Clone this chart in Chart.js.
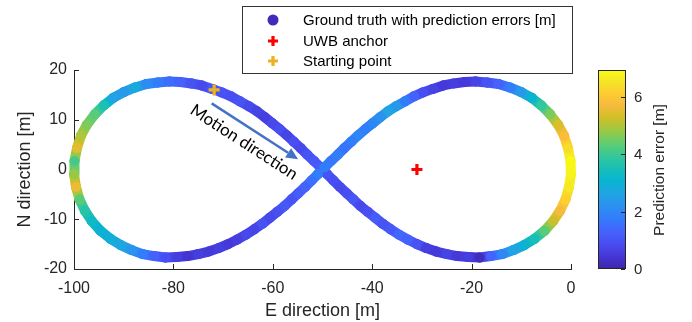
<!DOCTYPE html>
<html><head><meta charset="utf-8">
<script src="https://cdn.jsdelivr.net/npm/chart.js@4/dist/chart.umd.min.js"></script>
<style>html,body{margin:0;padding:0;background:#fff}#wrap{width:692px;height:322px;position:relative}</style>
</head><body><div id="wrap"><canvas id="c" width="692" height="322"></canvas></div>
<script>
// ---- data (trajectory in travel order, starting at the start point) ----
const eastM = [
-72.2,-70.3,-68.4,-66.6,-64.8,-63.2,-61.6,-60.1,-58.6,-57.2,-55.8,-54.4,-53.1,-51.7,-50.4,
-49.1,-47.8,-46.5,-45.1,-43.8,-42.4,-40.9,-39.4,-37.9,-36.3,-34.6,-32.8,-31.0,-29.1,-27.1,-25.0,-22.9,-20.7,-18.4,-16.1,-13.8,-11.6,-9.4,-7.3,-5.3,-3.6,-2.2,-1.1,-0.4,0.0,
-0.1,-0.6,-1.4,-2.6,-4.2,-6.0,-7.9,-10.1,-12.3,-14.6,-16.9,-19.2,-21.4,-23.6,-25.7,-27.8,-29.8,-31.6,-33.4,-35.2,-36.8,-38.4,-39.9,-41.4,-42.8,-44.2,-45.6,-46.9,-48.3,-49.6,
-50.9,-52.2,-53.5,-54.9,-56.2,-57.6,-59.1,-60.6,-62.1,-63.7,-65.4,-67.2,-69.0,-70.9,-72.9,-75.0,-77.1,-79.3,-81.6,-83.9,-86.2,-88.4,-90.6,-92.7,-94.7,-96.4,-97.8,-98.9,-99.6,-100.0,
-99.9,-99.4,-98.6,-97.4,-95.8,-94.0,-92.1,-89.9,-87.7,-85.4,-83.1,-80.8,-78.6,-76.4,-74.3
];
const northM = [
16.2,15.5,14.7,13.7,12.7,11.7,10.5,9.3,8.1,6.9,5.6,4.3,3.0,1.7,0.4,
-0.9,-2.2,-3.5,-4.8,-6.0,-7.3,-8.5,-9.7,-10.9,-12.0,-13.1,-14.1,-15.0,-15.8,-16.5,-17.0,-17.4,-17.6,-17.7,-17.4,-17.0,-16.2,-15.2,-13.9,-12.3,-10.4,-8.3,-6.0,-3.5,-0.9,
1.7,4.3,6.8,9.0,11.1,12.9,14.4,15.6,16.5,17.2,17.5,17.7,17.6,17.3,16.9,16.2,15.5,14.7,13.7,12.7,11.7,10.5,9.3,8.1,6.9,5.6,4.3,3.0,1.7,0.4,
-0.9,-2.2,-3.5,-4.8,-6.0,-7.3,-8.5,-9.7,-10.9,-12.0,-13.1,-14.1,-15.0,-15.8,-16.5,-17.0,-17.4,-17.6,-17.7,-17.4,-17.0,-16.2,-15.2,-13.9,-12.3,-10.4,-8.3,-6.0,-3.5,-0.9,
1.7,4.3,6.8,9.0,11.1,12.9,14.4,15.6,16.5,17.2,17.5,17.7,17.6,17.3,16.9
];
const errM = [
1.1,1.0,0.9,1.0,0.8,0.7,0.6,0.8,0.9,0.7,0.9,0.8,1.0,1.1,1.2,
1.0,0.9,0.8,0.9,1.1,0.8,0.9,1.2,1.0,1.1,1.4,1.3,1.0,0.6,0.5,0.7,0.5,0.6,0.2,1.3,2.0,2.6,3.0,3.5,4.3,5.2,5.7,6.2,6.6,6.8,
6.9,6.4,5.8,5.4,4.6,3.9,3.1,2.4,1.8,1.3,1.0,0.7,0.5,0.6,0.5,0.7,0.9,1.3,1.8,2.4,2.6,2.2,2.0,1.8,2.0,1.8,1.6,1.8,1.7,1.8,
1.8,1.6,1.3,1.2,1.0,1.1,0.9,0.8,1.0,0.7,0.8,0.6,0.5,0.6,0.5,0.6,0.4,0.6,0.9,1.3,1.8,2.3,2.7,2.9,3.0,3.3,3.7,4.3,5.6,4.8,
4.1,5.5,5.0,4.6,4.3,3.6,2.6,2.4,2.8,2.1,1.8,1.5,1.3,1.0,0.8
];
const anchorE = [-31.0], anchorN = [0.0];
const startE = [-71.8], startN = [16.0];
const arrowE = [-72.3, -54.9], arrowN = [13.3, 2.05];
const arrowTextE = -65.8, arrowTextN = 5.5;
const xTicks = [-100,-80,-60,-40,-20,0];
const yTicks = [-20,-10,0,10,20];
const cbTicks = [0,2,4,6];
const cbMax = 6.95;
const legendLabels = ['Ground truth with prediction errors [m]','UWB anchor','Starting point'];

// ---- colormap (parula) ----
const parulaStops = [
[0.2422,0.1504,0.6603],[0.2706,0.2147,0.8364],[0.2813,0.3006,0.9414],[0.2699,0.3892,0.9906],
[0.1963,0.4847,0.9892],[0.1687,0.5703,0.9359],[0.1248,0.6459,0.8883],[0.0297,0.7082,0.8163],
[0.0964,0.7500,0.7120],[0.2161,0.7843,0.5923],[0.3909,0.8029,0.4354],[0.6174,0.7876,0.2612],
[0.8203,0.7498,0.1535],[0.9728,0.7298,0.2394],[0.9892,0.8136,0.1885],[0.9597,0.9135,0.1423],
[0.9769,0.9839,0.0805]];
const stopPos = [0,4,8,12,16,20,24,28,32,36,40,44,48,52,56,60,63].map(v=>v/63);
function parulaFrac(t){
  t = Math.min(1, Math.max(0, t));
  let i = 0;
  while (i < stopPos.length-2 && t > stopPos[i+1]) i++;
  const f = (t - stopPos[i])/(stopPos[i+1]-stopPos[i]);
  const a = parulaStops[i], b = parulaStops[i+1];
  const c = k => Math.round(255*(a[k]+(b[k]-a[k])*f));
  return `rgb(${c(0)},${c(1)},${c(2)})`;
}
const parula = v => parulaFrac(v/cbMax);

const FONT = "'Liberation Sans', Arial, sans-serif";
const AX = '#262626';
Chart.defaults.font.family = FONT;

const n = eastM.length;
const pathData = eastM.map((e,i)=>({x:e, y:northM[i]}));
pathData.push(pathData[0]); // close the loop
const pointCols = errM.map(parula); pointCols.push(pointCols[0]);

const cb = {left:598, right:626, top:70, bottom:269};

const inwardTicks = {
  id:'inwardTicks',
  beforeDatasetsDraw(chart){
    const {ctx, chartArea:a, scales:{x,y}} = chart;
    ctx.save(); ctx.strokeStyle = AX; ctx.lineWidth = 1;
    x.ticks.forEach(t=>{ const px = Math.round(x.getPixelForValue(t.value))+0.5;
      ctx.beginPath(); ctx.moveTo(px, a.bottom); ctx.lineTo(px, a.bottom-5); ctx.stroke(); });
    y.ticks.forEach(t=>{ const py = Math.round(y.getPixelForValue(t.value))+0.5;
      ctx.beginPath(); ctx.moveTo(a.left, py); ctx.lineTo(a.left+5, py); ctx.stroke(); });
    ctx.restore();
  }
};

const arrowPlugin = {
  id:'arrow',
  afterDatasetsDraw(chart){
    const {ctx, scales:{x,y}} = chart;
    const x0=x.getPixelForValue(arrowE[0]), y0=y.getPixelForValue(arrowN[0]);
    const x1=x.getPixelForValue(arrowE[1]), y1=y.getPixelForValue(arrowN[1]);
    const ang = Math.atan2(y1-y0, x1-x0);
    const hl = 12, hw = 5.5;
    const bx = x1-hl*Math.cos(ang), by = y1-hl*Math.sin(ang);
    ctx.save();
    ctx.strokeStyle = '#4472C4'; ctx.fillStyle = '#4472C4'; ctx.lineWidth = 2.5;
    ctx.beginPath(); ctx.moveTo(x0,y0); ctx.lineTo(bx,by); ctx.stroke();
    ctx.beginPath(); ctx.moveTo(x1,y1);
    ctx.lineTo(bx - hw*Math.sin(ang), by + hw*Math.cos(ang));
    ctx.lineTo(bx + hw*Math.sin(ang), by - hw*Math.cos(ang));
    ctx.closePath(); ctx.fill();
    const tx = x.getPixelForValue(arrowTextE), ty = y.getPixelForValue(arrowTextN);
    ctx.translate(tx, ty); ctx.rotate(ang);
    ctx.font = "16px Lato, 'Open Sans', sans-serif";
    const w = ctx.measureText('Motion direction').width;
    const fs = 16*124/w;
    ctx.font = fs.toFixed(2)+"px Lato, 'Open Sans', sans-serif";
    ctx.fillStyle = '#000'; ctx.textAlign='center'; ctx.textBaseline='middle';
    ctx.fillText('Motion direction', 0, 0);
    ctx.restore();
  }
};

const colorbarPlugin = {
  id:'colorbar',
  afterDraw(chart){
    const ctx = chart.ctx;
    ctx.save();
    const g = ctx.createLinearGradient(0, cb.bottom, 0, cb.top);
    stopPos.forEach((p,i)=>{ const s=parulaStops[i];
      g.addColorStop(p, `rgb(${Math.round(s[0]*255)},${Math.round(s[1]*255)},${Math.round(s[2]*255)})`); });
    ctx.fillStyle = g;
    ctx.fillRect(cb.left, cb.top, cb.right-cb.left, cb.bottom-cb.top);
    ctx.strokeStyle = AX; ctx.lineWidth = 1;
    ctx.strokeRect(cb.left+0.5, cb.top+0.5, cb.right-cb.left-1, cb.bottom-cb.top-1);
    ctx.fillStyle = AX; ctx.font = "15px "+FONT; ctx.textAlign='left'; ctx.textBaseline='middle';
    cbTicks.forEach(v=>{
      const py = Math.round(cb.bottom - v/cbMax*(cb.bottom-cb.top)) + 0.5;
      ctx.beginPath(); ctx.moveTo(cb.right-1, py); ctx.lineTo(cb.right-5, py); ctx.stroke();
      ctx.fillText(String(v), 634, py);
    });
    ctx.translate(660, 170); ctx.rotate(-Math.PI/2);
    ctx.textAlign='center'; ctx.font = "15.5px "+FONT;
    ctx.fillText('Prediction error [m]', 0, 0);
    ctx.restore();
  }
};

const legendPlugin = {
  id:'customLegend',
  afterDraw(chart){
    const ctx = chart.ctx;
    ctx.save();
    ctx.fillStyle = '#fff'; ctx.fillRect(242, 6, 331, 68);
    ctx.strokeStyle = '#333'; ctx.lineWidth = 1; ctx.strokeRect(242.5, 6.5, 330, 67);
    const rows = [20, 41, 61], mx = 273;
    ctx.fillStyle = parula(0.15);
    ctx.beginPath(); ctx.arc(mx, rows[0], 5.5, 0, Math.PI*2); ctx.fill();
    const cross = (cy, col) => { ctx.strokeStyle = col; ctx.lineWidth = 3.2;
      ctx.beginPath(); ctx.moveTo(mx-5, cy); ctx.lineTo(mx+5, cy); ctx.moveTo(mx, cy-5); ctx.lineTo(mx, cy+5); ctx.stroke(); };
    cross(rows[1], '#FF0000'); cross(rows[2], '#EDB120');
    ctx.fillStyle = '#000'; ctx.font = "15px "+FONT; ctx.textAlign='left'; ctx.textBaseline='middle';
    legendLabels.forEach((t,i)=>ctx.fillText(t, 303, rows[i]+0.5));
    ctx.restore();
  }
};

new Chart(document.getElementById('c'), {
  type:'scatter',
  data:{datasets:[
    {label:legendLabels[0], data:pathData, showLine:true, borderWidth:10,
     borderCapStyle:'round', borderJoinStyle:'round', borderColor:pointCols[0],
     segment:{borderColor: c => parula((errM[c.p0DataIndex % n] + errM[c.p1DataIndex % n])/2)},
     pointRadius:5, pointHoverRadius:5, pointBorderWidth:0, pointBackgroundColor:pointCols,
     order:2, clip:false},
    {label:legendLabels[1], data:anchorE.map((e,i)=>({x:e, y:anchorN[i]})), pointStyle:'cross',
     pointRadius:5.5, pointBorderWidth:3.2, pointBorderColor:'#FF0000', borderColor:'#FF0000', order:0, clip:false},
    {label:legendLabels[2], data:startE.map((e,i)=>({x:e, y:startN[i]})), pointStyle:'cross',
     pointRadius:5.5, pointBorderWidth:3.2, pointBorderColor:'#EDB120', borderColor:'#EDB120', order:0, clip:false}
  ]},
  options:{
    responsive:false, animation:false, devicePixelRatio:1, events:[],
    layout:{padding:{left:0, right:121, top:70, bottom:0}},
    plugins:{legend:{display:false}, tooltip:{enabled:false}},
    scales:{
      x:{type:'linear', min:-100, max:0,
         afterBuildTicks: s => { s.ticks = xTicks.map(v=>({value:v})); },
         afterFit: s => { s.height = 53; },
         grid:{display:false, drawTicks:false},
         border:{display:true, color:AX, width:1},
         ticks:{color:AX, font:{size:16}, padding:10, maxRotation:0},
         title:{display:true, text:'E direction [m]', color:AX, font:{size:18}, padding:{top:0, bottom:0}}},
      y:{type:'linear', min:-20, max:20,
         afterBuildTicks: s => { s.ticks = yTicks.map(v=>({value:v})); },
         afterFit: s => { s.width = 74; },
         grid:{display:false, drawTicks:false},
         border:{display:true, color:AX, width:1},
         ticks:{color:AX, font:{size:16}, padding:7},
         title:{display:true, text:'N direction [m]', color:AX, font:{size:18}, padding:{top:14, bottom:0}}}
    }
  },
  plugins:[inwardTicks, arrowPlugin, colorbarPlugin, legendPlugin]
});
</script></body></html>
